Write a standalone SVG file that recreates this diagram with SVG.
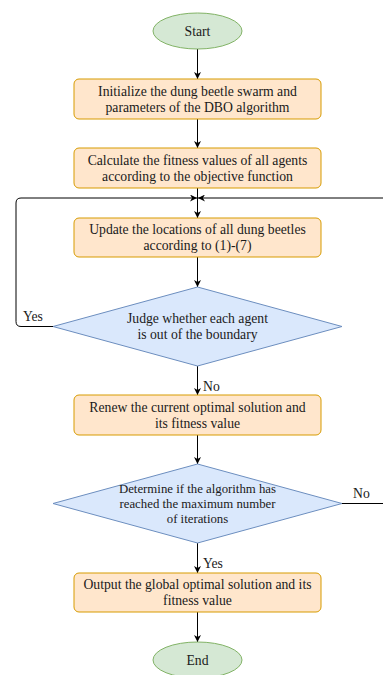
<svg xmlns="http://www.w3.org/2000/svg" width="383" height="675" viewBox="0 0 383 675" font-family="'Liberation Serif', 'Times New Roman', 'DejaVu Serif', serif">
  <style>
    .term { fill: #d5e8d4; stroke: #82b366; stroke-width: 1; }
    .proc { fill: #ffe6cc; stroke: #d79b00; stroke-width: 1; }
    .dec { fill: #dae8fc; stroke: #6c8ebf; stroke-width: 1; }
    .edge { fill: none; stroke: #000; stroke-width: 1; }
    .arrow { marker-end: url(#arrowhead); }
    text { font-family: 'Liberation Serif', 'Times New Roman', 'DejaVu Serif', serif; font-size: 13.7px; fill: #1a1a1a; text-anchor: middle; }
    .small { font-size: 12.8px; }
    .lbl { text-anchor: start; }
  </style>
  <defs>
    <marker id="arrowhead" viewBox="0 0 10 10" refX="10" refY="5" markerWidth="7" markerHeight="7" markerUnits="userSpaceOnUse" orient="auto">
      <path d="M0,0 L10,5 L0,10 L3,5 Z" fill="#000"/>
    </marker>
  </defs>
  <rect width="383" height="675" fill="#fff"/>

  <!-- connectors -->
  <g id="connectors">
    <line class="edge arrow" x1="197.5" y1="49" x2="197.5" y2="79"/>
    <line class="edge arrow" x1="197.5" y1="119" x2="197.5" y2="148"/>
    <line class="edge arrow" x1="197.5" y1="188" x2="197.5" y2="218"/>
    <line class="edge arrow" x1="197.5" y1="257" x2="197.5" y2="287"/>
    <line class="edge arrow" x1="197.5" y1="366" x2="197.5" y2="395"/>
    <line class="edge arrow" x1="197.5" y1="435" x2="197.5" y2="464"/>
    <line class="edge arrow" x1="197.5" y1="543" x2="197.5" y2="573"/>
    <line class="edge arrow" x1="197.5" y1="612" x2="197.5" y2="642"/>
    <!-- Yes loop back to the update step -->
    <path class="edge arrow" d="M53,326.5 L21,326.5 Q16,326.5 16,321.5 L16,203 Q16,198 21,198 L197,198"/>
    <!-- No loop back from the iteration check -->
    <path class="edge" d="M342,503.5 L390,503.5"/>
    <path class="edge arrow" d="M390,198 L198,198"/>
    <text class="lbl" x="23" y="321">Yes</text>
    <text class="lbl" x="203" y="391">No</text>
    <text class="lbl" x="353" y="498">No</text>
    <text class="lbl" x="203" y="568">Yes</text>
  </g>

  <g id="start">
    <ellipse class="term" cx="197.5" cy="31" rx="44.5" ry="18"/>
    <text x="197.5" y="35.5">Start</text>
  </g>

  <g id="init">
    <rect class="proc" x="74" y="79" width="247" height="40" rx="5"/>
    <text x="197.5" y="95.5">Initialize the dung beetle swarm and</text>
    <text x="197.5" y="111.5">parameters of the DBO algorithm</text>
  </g>

  <g id="fitness">
    <rect class="proc" x="74" y="148" width="247" height="40" rx="5"/>
    <text x="197.5" y="164.5">Calculate the fitness values of all agents</text>
    <text x="197.5" y="180.5">according to the objective function</text>
  </g>

  <g id="update">
    <rect class="proc" x="74" y="218" width="247" height="39" rx="5"/>
    <text x="197.5" y="234">Update the locations of all dung beetles</text>
    <text x="197.5" y="250">according to (1)-(7)</text>
  </g>

  <g id="boundary">
    <polygon class="dec" points="197.5,287 342,326.5 197.5,366 53,326.5"/>
    <text x="197.5" y="322.5">Judge whether each agent</text>
    <text x="197.5" y="338.5">is out of the boundary</text>
  </g>

  <g id="renew">
    <rect class="proc" x="74" y="395" width="247" height="40" rx="5"/>
    <text x="197.5" y="411.5">Renew the current optimal solution and</text>
    <text x="197.5" y="427.5">its fitness value</text>
  </g>

  <g id="iterations">
    <polygon class="dec" points="197.5,464 342,503.5 197.5,543 53,503.5"/>
    <text class="small" x="197.5" y="493">Determine if the algorithm has</text>
    <text class="small" x="197.5" y="508">reached the maximum number</text>
    <text class="small" x="197.5" y="523">of iterations</text>
  </g>

  <g id="output">
    <rect class="proc" x="74" y="573" width="247" height="39" rx="5"/>
    <text x="197.5" y="589">Output the global optimal solution and its</text>
    <text x="197.5" y="605">fitness value</text>
  </g>

  <g id="end">
    <ellipse class="term" cx="197.5" cy="660" rx="44.5" ry="18"/>
    <text x="197.5" y="664.5">End</text>
  </g>
</svg>
